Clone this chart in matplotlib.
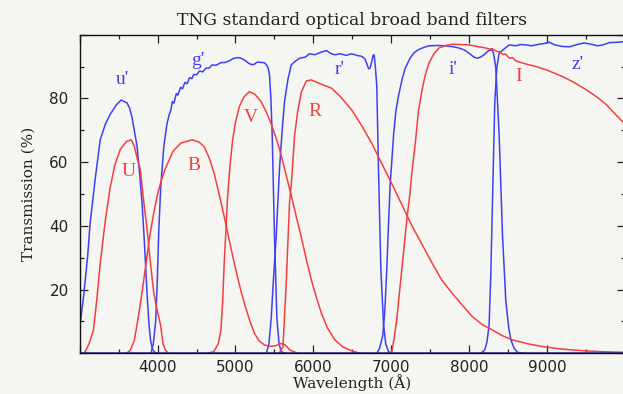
import matplotlib
matplotlib.use("Agg")
import matplotlib.pyplot as plt
from matplotlib.ticker import MultipleLocator, FixedLocator, FixedFormatter

# ---------------- data ----------------
uprime_wave = [3000, 3050, 3100, 3134, 3200, 3263, 3330, 3392, 3470, 3534, 3570, 3607, 3640,
               3672, 3700, 3736, 3770, 3801, 3830, 3866, 3890, 3910, 3935, 3965, 4000]
uprime_trans = [8, 18, 30, 41, 55, 67, 72, 75, 78, 79.5, 79, 78.6, 77,
                74, 70, 65, 56, 47, 35, 18, 9, 4, 1.2, 0.3, 0]

gprime_wave = [3915, 3945, 3975, 3995, 4016, 4040, 4080, 4120, 4150, 4167, 4190, 4210, 4240,
               4260, 4296, 4320, 4350, 4380, 4410, 4440, 4464, 4500, 4540, 4580, 4620,
               4660, 4700, 4750, 4813, 4870, 4920, 4970, 5030, 5071, 5120, 5170, 5210,
               5240, 5280, 5320, 5370, 5400, 5420, 5437, 5455, 5472, 5501, 5532, 5560,
               5588, 5640]
gprime_trans = [0, 3, 10, 22, 39, 52, 65, 72, 75, 76, 79, 78.5, 81.5,
                81, 83.5, 83, 85, 84.6, 86.5, 86.2, 87.5, 87.4, 88.6, 88.3, 89.5,
                89.5, 90.5, 90.4, 91.2, 91.3, 91.8, 92.5, 92.8, 92.6, 92, 91, 90.6,
                90.7, 91.4, 91.3, 91.2, 90.5, 89.5, 87.4, 80, 68.5, 37, 11, 3,
                0.5, 0]

rprime_wave = [5400, 5430, 5459, 5490, 5524, 5566, 5600, 5630, 5674, 5717, 5760, 5824, 5900,
               5950, 6018, 6100, 6169, 6230, 6277, 6350, 6420, 6492, 6560, 6621, 6660,
               6686, 6710, 6729, 6750, 6768, 6781, 6795, 6815, 6837, 6867, 6902, 6930,
               6966, 7010]
rprime_trans = [0.3, 3, 11, 24, 37, 58, 70, 79, 86, 90.5, 91.5, 92.6, 93,
                94, 93.7, 94.5, 95, 94, 93.7, 94, 93.5, 94, 93.5, 93.2, 92.5,
                91, 89.3, 89.5, 91.5, 93.5, 93.7, 90.5, 84, 58, 26.7, 8.9, 3,
                0.5, 0]

iprime_wave = [6815, 6850, 6893, 6920, 6944, 6965, 6987, 7031, 7060, 7096, 7140, 7181, 7240,
               7289, 7350, 7420, 7483, 7600, 7698, 7800, 7871, 7940, 8000, 8060, 8108,
               8150, 8194, 8250, 8301, 8320, 8344, 8387, 8430, 8473, 8510, 8538, 8580,
               8624, 8700]
iprime_trans = [0, 1.5, 5.7, 14, 26.7, 40, 52.8, 68.5, 76, 81, 86, 89.5, 92.5,
                94.2, 95.3, 96, 96.5, 96.6, 96.5, 96.2, 95.8, 95.2, 94.2, 93, 92.6,
                93, 93.7, 95, 95.2, 93.5, 89.5, 68.5, 37, 16.2, 8, 4.2, 1.5,
                0.3, 0]

zprime_wave = [8150, 8200, 8230, 8258, 8280, 8301, 8331, 8357, 8387, 8450, 8517, 8600, 8660,
               8731, 8800, 8900, 8960, 9034, 9100, 9200, 9292, 9400, 9480, 9550, 9650,
               9722, 9800, 9900, 9980, 10000]
zprime_trans = [0, 1, 3.5, 8.9, 25, 47.6, 79, 89.6, 94.2, 95.5, 96.8, 96.5, 96.9,
                96.8, 96.5, 97, 97.2, 97.6, 96.8, 96.3, 96.2, 97, 97.4, 97.1, 96.5,
                96.8, 97.5, 97.6, 97.8, 97.8]

U_wave = [3040, 3070, 3120, 3176, 3220, 3262, 3330, 3391, 3450, 3521, 3600, 3663, 3700,
          3740, 3779, 3820, 3866, 3910, 3951, 3990, 4037, 4070, 4100, 4140]
U_trans = [0, 0.5, 3, 7.3, 17, 28, 42, 52, 59, 64, 66.5, 67, 65,
           61, 57.6, 48, 38.7, 28, 19, 14, 9, 3, 1, 0]

B_wave = [3600, 3650, 3700, 3750, 3800, 3850, 3900, 3950, 4000, 4050, 4100, 4200, 4300,
          4447, 4530, 4597, 4660, 4726, 4790, 4855, 4920, 4985, 5050, 5114, 5180,
          5243, 5300, 5372, 5450, 5520, 5588, 5640, 5700, 5800]
B_trans = [0, 1, 4, 11, 19, 28, 37, 44, 50, 54.5, 58, 63.5, 66,
           67, 66.3, 64.9, 61.5, 56.5, 50, 42.9, 35.5, 28.3, 21.5, 15.7, 10.5,
           6.3, 4, 2.6, 2.2, 2.4, 3.1, 2.6, 1, 0]

V_wave = [4640, 4720, 4780, 4813, 4835, 4855, 4899, 4930, 4964, 5000, 5049, 5110, 5178,
          5250, 5329, 5400, 5459, 5530, 5588, 5650, 5717, 5780, 5846, 5910, 5975,
          6040, 6104, 6180, 6277, 6380, 6492, 6600]
V_trans = [0, 0.5, 3, 7.3, 16, 28, 49, 59, 67, 72.5, 77.4, 80.5, 82.1,
           81.3, 79, 75.5, 72, 67, 62, 56, 49.5, 43, 36.4, 29.5, 23,
           17.5, 12.6, 8, 4.2, 2, 0.8, 0]

R_wave = [5560, 5610, 5652, 5695, 5717, 5760, 5800, 5846, 5911, 5975, 6050, 6150, 6234,
          6350, 6492, 6620, 6751, 6880, 7009, 7140, 7267, 7400, 7526, 7650, 7784,
          7900, 8043, 8170, 8301, 8430, 8559, 8750, 8947, 9200, 9464, 9700, 10000]
R_trans = [0, 2, 22, 47.6, 53, 68.5, 76, 82, 85.5, 85.8, 85, 84, 83.2,
           80.5, 76.4, 71.5, 65.9, 59.5, 53.2, 46.5, 40, 34, 28.3, 23, 18.8,
           15.5, 11.5, 9, 7.3, 5.5, 4.2, 3, 2.1, 1.3, 0.8, 0.5, 0.3]

I_wave = [6990, 7009, 7040, 7074, 7110, 7160, 7203, 7240, 7267, 7310, 7350, 7397, 7440,
          7483, 7550, 7612, 7700, 7784, 7900, 8000, 8100, 8200, 8258, 8300, 8350,
          8400, 8430, 8470, 8517, 8560, 8600, 8700, 8860, 9000, 9205, 9350, 9506,
          9650, 9765, 9900, 10000]
I_trans = [0, 0.5, 5, 11, 20, 32, 42.5, 50, 57, 66, 76, 82.7, 87.5,
           91, 94, 95.8, 96.6, 97, 96.9, 96.8, 96.3, 95.9, 95.5, 95.6, 94.8,
           94.6, 93.8, 93.9, 92.6, 92.8, 91.8, 91, 90, 88.9, 86.8, 85, 82.7,
           80.3, 78, 74.5, 72]

blue_labels = ["u'", "g'", "r'", "i'", "z'"]
blue_label_x = [3543, 4517, 6338, 7796, 9400]
blue_label_y = [85.8, 92, 89, 89, 90.5]
red_labels = ["U", "B", "V", "R", "I"]
red_label_x = [3625, 4465, 5200, 6015, 8640]
red_label_y = [57, 59, 74, 76, 87]

x_major_ticks = [3000, 4000, 5000, 6000, 7000, 8000, 9000, 10000]
x_tick_labels = ["", "4000", "5000", "6000", "7000", "8000", "9000", ""]
y_major_ticks = [0, 20, 40, 60, 80, 100]
y_tick_labels = ["", "20", "40", "60", "80", ""]

# ---------------- style ----------------
BG = "#f5f5f2"
BLUE = "#4040f2"
RED = "#f24040"
LW = 1.1

fig = plt.figure(figsize=(6.23, 3.94), dpi=100, facecolor=BG)
ax = fig.add_axes([0.128, 0.1033, 0.8748, 0.8087], facecolor=BG)

for wl, tr in [(uprime_wave, uprime_trans), (gprime_wave, gprime_trans),
               (rprime_wave, rprime_trans), (iprime_wave, iprime_trans),
               (zprime_wave, zprime_trans)]:
    ax.plot(wl, tr, color=BLUE, lw=LW, solid_joinstyle="round")

for wl, tr in [(U_wave, U_trans), (B_wave, B_trans), (V_wave, V_trans),
               (R_wave, R_trans), (I_wave, I_trans)]:
    ax.plot(wl, tr, color=RED, lw=LW, solid_joinstyle="round")

# flat zero baseline (drawn in the reference along the bottom)
ax.plot([3000, 10000], [0, 0], color="#2a2a9a", lw=LW)

lab_font = dict(family="Liberation Serif", fontsize=14)
for t, x, y in zip(blue_labels, blue_label_x, blue_label_y):
    ax.text(x, y, t, color=BLUE, ha="center", va="center", **lab_font)
for t, x, y in zip(red_labels, red_label_x, red_label_y):
    ax.text(x, y, t, color=RED, ha="center", va="center", **lab_font)

ax.set_xlim(3000, 10000)
ax.set_ylim(0, 100)
ax.xaxis.set_major_locator(FixedLocator(x_major_ticks))
ax.xaxis.set_major_formatter(FixedFormatter(x_tick_labels))
ax.xaxis.set_minor_locator(MultipleLocator(500))
ax.yaxis.set_major_locator(FixedLocator(y_major_ticks))
ax.yaxis.set_major_formatter(FixedFormatter(y_tick_labels))
ax.yaxis.set_minor_locator(MultipleLocator(10))
ax.tick_params(which="both", direction="in", top=True, right=True, colors="#222222",
               labelsize=11, width=0.9)
ax.tick_params(which="major", length=5.5)
ax.tick_params(axis="x", which="major", pad=5)
ax.tick_params(axis="y", which="major", pad=8)
ax.tick_params(which="minor", length=3.2)
for lbl in ax.get_xticklabels() + ax.get_yticklabels():
    lbl.set_family("DejaVu Sans")
for s in ax.spines.values():
    s.set_color("#111111")
    s.set_linewidth(1.0)

ax.set_title("TNG standard optical broad band filters", family="DejaVu Serif",
             fontsize=12.3, pad=7, color="#222222")
ax.set_xlabel("Wavelength (Å)", family="DejaVu Serif", fontsize=11, labelpad=-1,
              color="#222222")
ax.set_ylabel("Transmission (%)", family="DejaVu Serif", fontsize=11, labelpad=10,
              color="#222222")

fig.savefig("out.png", dpi=100, facecolor=BG)
